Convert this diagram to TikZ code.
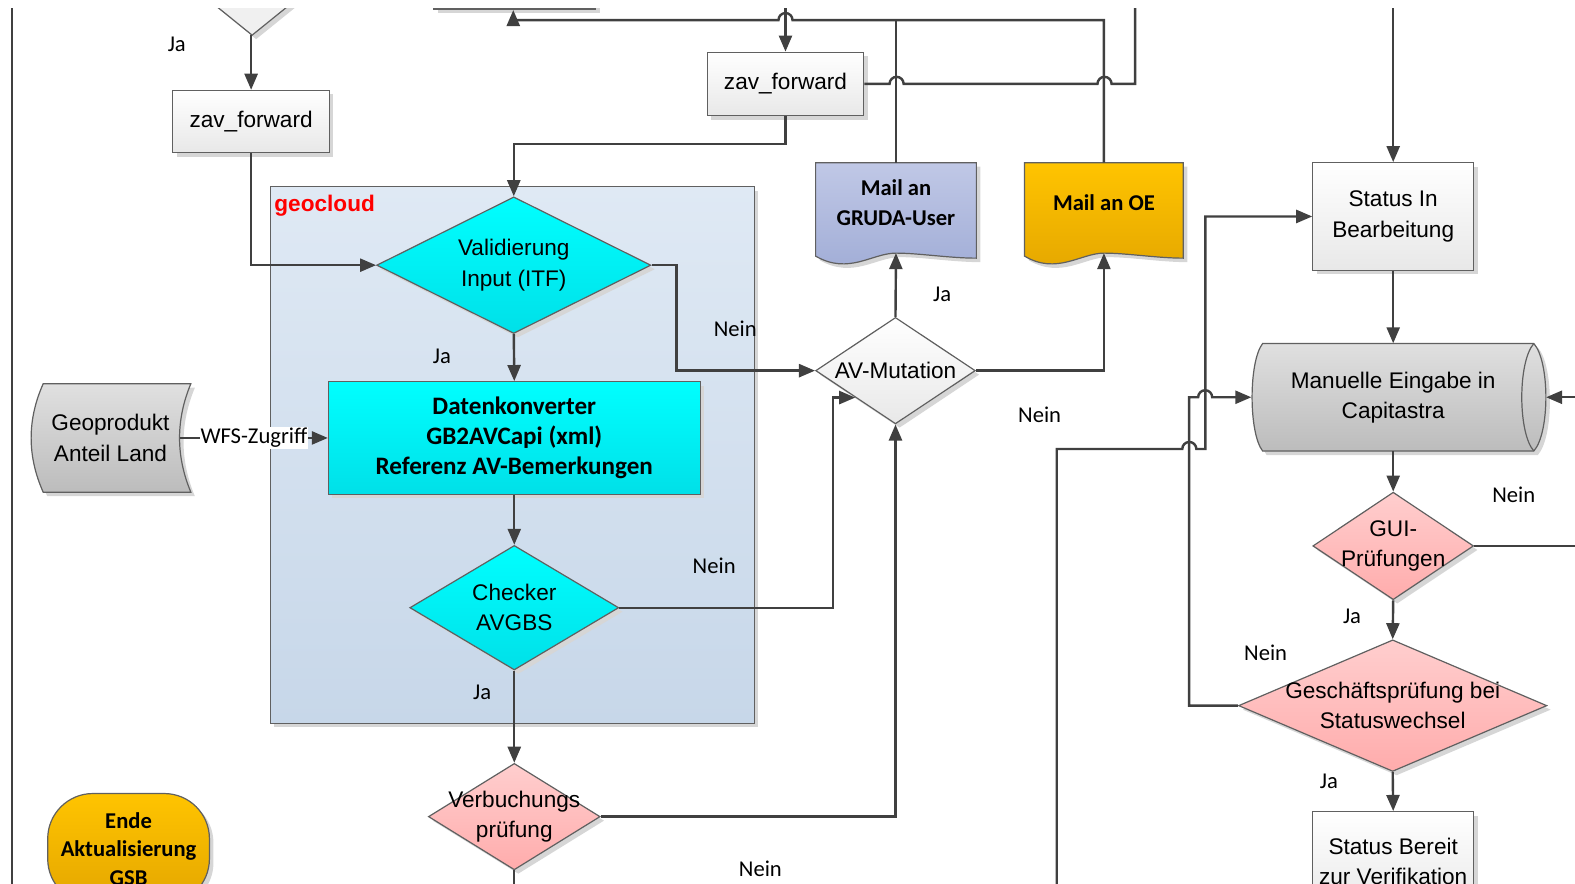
\documentclass[tikz,border=0pt]{standalone}
\usepackage{fontspec}
\setmainfont{Liberation Sans}
\newfontfamily\calfont{Carlito}
\usetikzlibrary{arrows.meta,shapes.geometric,shadows}
\definecolor{lnc}{RGB}{64,64,64}
\definecolor{bdr}{RGB}{96,96,96}
\definecolor{boxbot}{RGB}{232,232,232}
\definecolor{cyantop}{RGB}{0,255,255}
\definecolor{cyanbot}{RGB}{0,224,232}
\definecolor{pinktop}{RGB}{255,206,206}
\definecolor{pinkbot}{RGB}{255,172,172}
\definecolor{greytop}{RGB}{224,224,224}
\definecolor{greybot}{RGB}{188,188,188}
\definecolor{grudatop}{RGB}{192,200,230}
\definecolor{grudabot}{RGB}{160,172,214}
\definecolor{oetop}{RGB}{255,196,0}
\definecolor{oebot}{RGB}{228,166,0}
\definecolor{cloudtop}{RGB}{223,233,244}
\definecolor{cloudbot}{RGB}{199,215,233}
\definecolor{cloudred}{RGB}{255,0,0}
\definecolor{shadowc}{RGB}{214,214,214}
\tikzset{
  ln/.style    ={draw=lnc, line width=2.4pt},
  arr/.style   ={ln, -{Triangle[length=16pt,width=13pt]}},
  shd/.style   ={drop shadow={shadow xshift=4pt, shadow yshift=-4pt, fill=shadowc, opacity=1}},
  outl/.style  ={draw=bdr, line width=1.2pt},
  txt/.style   ={font=\fontsize{22.5}{30}\selectfont, align=center, inner sep=0pt},
  calb/.style  ={font=\calfont\bfseries\fontsize{22.5}{30}\selectfont, align=center, inner sep=0pt},
  jn/.style    ={font=\calfont\fontsize{22.5}{27}\selectfont, inner sep=1pt},
  box/.style   ={txt, outl, shd, top color=white, bottom color=boxbot, minimum width=156pt, minimum height=62pt},
  dia/.style   ={diamond, outl, shd, inner sep=0pt},
  cyandia/.style ={dia, top color=cyantop, bottom color=cyanbot},
  pinkdia/.style ={dia, top color=pinktop, bottom color=pinkbot},
  greydia/.style ={dia, top color=white, bottom color=boxbot},
}
\begin{document}
\begin{tikzpicture}[x=1pt,y=-1pt]
  \useasboundingbox (0,0) rectangle (1568,880);
  \clip (0,8) rectangle (1568,880);
  % geocloud area
  \path[outl, shd, top color=cloudtop, bottom color=cloudbot] (269,186) rectangle (751,720);
  \node[font=\bfseries\fontsize{22.5}{27}\selectfont, text=cloudred, anchor=west, inner sep=0pt] (cloud) at (273,205) {geocloud};
  % shapes cut off at the top
  \draw[outl, shd, fill=white] (432,-60) rectangle (593,9);
  \draw[outl, shd, fill=black!6] (183,-20) -- (319,-20) -- (251,35) -- cycle;
  \coordinate (tritip) at (251,35);
  \coordinate (topbox) at (511,10);
  \coordinate (topin) at (782,0);
  \coordinate (topout) at (1130,0);
  \coordinate (sibin) at (1387,0);
  % left frame
  \draw[ln] (12,0) -- (12,890);

  \node[box] (zavA) at (250,121) {zav\_forward};
  \node[box, minimum height=63pt] (zavB) at (782,83.5) {zav\_forward};

  % mail documents
  \draw[outl, shd, top color=grudatop, bottom color=grudabot] (812,162) -- (972,162) -- (972,257)
    .. controls (945,257) and (915,252) .. (892,252) .. controls (868,252) and (845,274) .. (812,255) -- cycle;
  \draw[outl, shd, top color=oetop, bottom color=oebot] (1020,162) -- (1178,162) -- (1178,257)
    .. controls (1152,257) and (1122,252) .. (1099,252) .. controls (1076,252) and (1052,274) .. (1020,255) -- cycle;
  \node[calb] (gruda) at (892,202) {Mail an\\GRUDA-User};
  \node[calb] (oe) at (1099,202) {Mail an OE};
  \coordinate (grudat) at (892,162);
  \coordinate (grudab) at (892,252);
  \coordinate (oet) at (1099,162);
  \coordinate (oeb) at (1099,252);

  % geocloud steps
  \node[cyandia, minimum width=273pt, minimum height=136pt,
        label={[txt]center:Validierung\\Input (ITF)}] (valid) at (511.5,264) {};
  \node[calb, font=\calfont\bfseries\fontsize{25}{30}\selectfont, outl, shd, top color=cyantop, bottom color=cyanbot,
        minimum width=370pt, minimum height=112pt] (dk) at (512,436) {Datenkonverter\\GB2AVCapi (xml)\\Referenz AV-Bemerkungen};
  \node[cyandia, minimum width=208pt, minimum height=124pt,
        label={[txt]center:Checker\\AVGBS}] (chk) at (512,605) {};
  \node[pinkdia, minimum width=171pt, minimum height=106pt,
        label={[txt]center:Verbuchungs\\prüfung}] (verb) at (512,813) {};

  % Geoprodukt
  \draw[outl, shd, top color=greytop, bottom color=greybot] (43,382) -- (190,382)
    .. controls (175,418) and (175,454) .. (190,490) -- (43,490)
    .. controls (27,454) and (27,418) .. (43,382) -- cycle;
  \node[txt, minimum width=138pt] (geo) at (110,436) {Geoprodukt\\Anteil Land};

  \node[greydia, minimum width=159pt, minimum height=106pt,
        label={[txt]center:AV-Mutation}] (avm) at (891.5,369) {};

  \node[calb, outl, shd, rounded corners=45pt, top color=oetop, bottom color=oebot,
        font=\calfont\bfseries\fontsize{22.5}{28.5}\selectfont,
        minimum width=161pt, minimum height=110pt] (ende) at (128,845) {Ende\\Aktualisierung\\GSB};

  % Capitastra side
  \node[box, minimum width=160pt, minimum height=107pt] (sib) at (1387,215.5) {Status In\\Bearbeitung};
  \draw[outl, shd, top color=greytop, bottom color=greybot] (1257,342) -- (1527,342)
    .. controls (1543,360) and (1543,431) .. (1527,449) -- (1257,449)
    .. controls (1243,431) and (1243,360) .. (1257,342) -- cycle;
  \draw[outl] (1527,342) .. controls (1511,360) and (1511,431) .. (1527,449);
  \node[txt, minimum width=293pt, minimum height=107pt] (man) at (1392.5,395.5) {\hspace*{-11pt}Manuelle Eingabe in\\\hspace*{-11pt}Capitastra};
  \node[pinkdia, minimum width=160pt, minimum height=107pt,
        label={[txt]center:GUI-\\Prüfungen}] (gui) at (1387,543.5) {};
  \node[pinkdia, minimum width=307pt, minimum height=131pt,
        label={[txt]center:Geschäftsprüfung bei\\Statuswechsel}] (gp) at (1386.5,702.5) {};
  \node[box, minimum width=160pt, minimum height=100pt] (sbv) at (1387,858) {Status Bereit\\zur Verifikation};
  \coordinate (lowin) at (1052,890);
  \coordinate (rin) at (1580,395.5);
  \coordinate (guiout) at (1580,543.5);

  % connectors
  \draw[arr] (zavA.north |- tritip) -- (zavA.north);
  \draw[arr] (zavA.south) |- (valid.west);
  \draw[ln] (grudat) -- (892,20);
  \draw[arr] (oet) -- (1099,20) -- (789,20) arc[start angle=0,end angle=180,radius=7pt] -- (511,20) -- (topbox);
  \draw[arr] (zavB.north |- topin) -- (zavB.north);
  \draw[ln] (zavB.east) -- ++(25,0) arc[start angle=180,end angle=0,radius=7pt] -- ++(193,0)
    arc[start angle=180,end angle=0,radius=7pt] -| (topout);
  \draw[arr] (zavB.south) -- ++(0,28) -| (valid.north);
  \draw[arr] (valid.south) -- (dk.north);
  \draw[arr] (valid.east) -- ++(25,0) |- (avm.west);
  \draw[arr] (geo.east) -- node[jn, fill=white] (wfs) {WFS-Zugriff} (dk.west);
  \draw[arr] (dk.south) -- (chk.north);
  \draw[arr] (chk.east) -| ([xshift=-22pt]avm.south west) -- (avm.south west);
  \draw[arr] (chk.south) -- (verb.north);
  \draw[arr] (verb.east) -| (avm.south);
  \draw[ln] (verb.south) -- ++(0,30);
  \draw[arr] (avm.north) -- (grudab);
  \draw[arr] (avm.east) -| (oeb);
  \draw[arr] (sibin) -- (sib.north);
  \draw[arr] (sib.south) -- (sib.south |- man.north);
  \draw[arr] (gui.north |- man.south) -- (gui.north);
  \draw[ln] (gui.east) -- (guiout);
  \draw[arr] (gui.south) -- (gp.north);
  \draw[arr] (gp.south) -- (sbv.north);
  \draw[arr] (gp.west) -| ([xshift=-62pt]man.west) -- ([xshift=-53pt]man.west)
    arc[start angle=180,end angle=0,radius=7pt] -- (man.west);
  \draw[arr] (lowin) -- ++(0,-443) -- ++(125,0) arc[start angle=180,end angle=0,radius=7pt]
    -- ++(9,0) |- (sib.west);
  \draw[arr] (rin) -- (man.east);

  % Ja / Nein
  \node[jn] (ja1) at (176,44) {Ja};
  \node[jn] (ja2) at (440,355) {Ja};
  \node[jn] (nein1) at (732,327) {Nein};
  \node[jn] (nein2) at (711,563) {Nein};
  \node[jn] (ja3) at (480,689) {Ja};
  \node[jn] (nein3) at (757,865) {Nein};
  \node[jn] (ja4) at (938,293) {Ja};
  \node[jn] (nein4) at (1035,413) {Nein};
  \node[jn] (nein5) at (1507,493) {Nein};
  \node[jn] (ja5) at (1346,614) {Ja};
  \node[jn] (nein6) at (1260,650) {Nein};
  \node[jn] (ja6) at (1323,778) {Ja};
\end{tikzpicture}
\end{document}
